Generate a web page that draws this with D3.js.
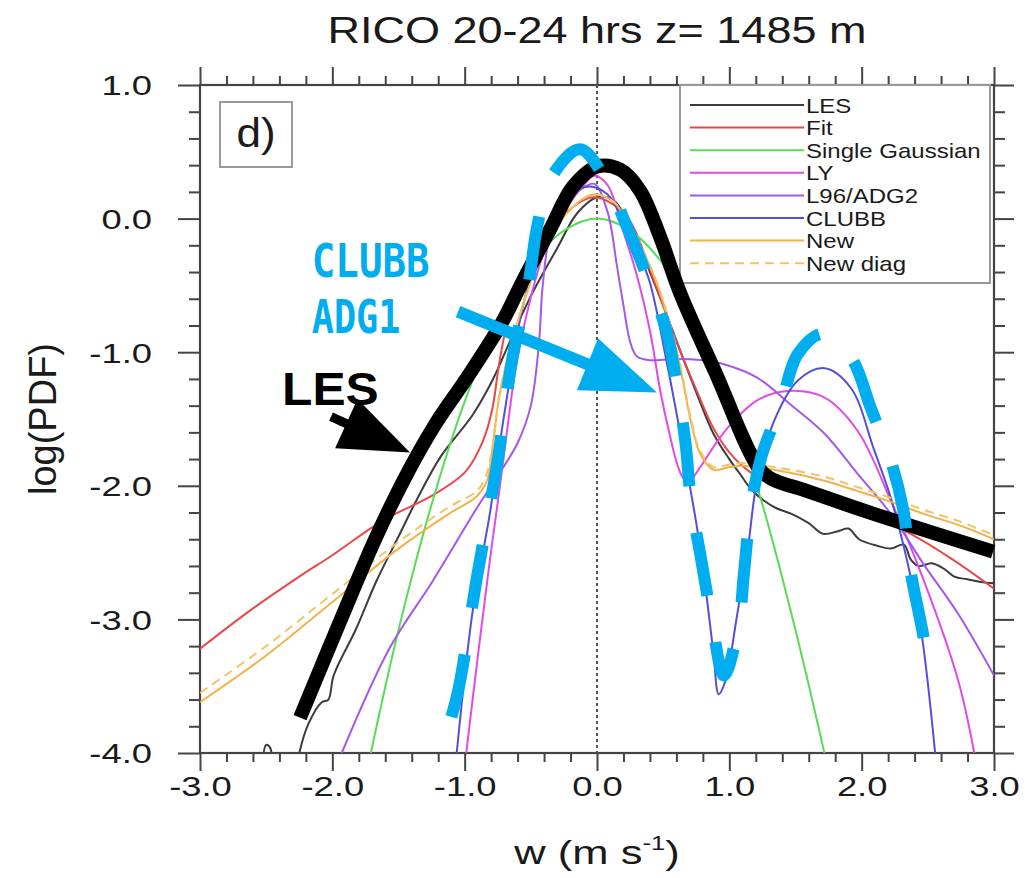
<!DOCTYPE html>
<html>
<head>
<meta charset="utf-8">
<script src="https://cdn.jsdelivr.net/npm/d3@7"></script>
<style>
  body { margin: 0; background: #fff; }
  svg { display: block; }
</style>
</head>
<body>
<svg id="chart" width="1025" height="878"></svg>
<script>
// ---------- data: log10 of the PDF of vertical velocity w (m/s) ----------
const titleText = "RICO 20-24 hrs z= 1485 m";
const seriesNames = ["LES", "Fit", "Single Gaussian", "LY", "L96/ADG2", "CLUBB", "New", "New diag"];

const xTickValues = [-3, -2, -1, 0, 1, 2, 3];
const xTickLabels = ["-3.0", "-2.0", "-1.0", "0.0", "1.0", "2.0", "3.0"];
const yTickValues = [1, 0, -1, -2, -3, -4];
const yTickLabels = ["1.0", "0.0", "-1.0", "-2.0", "-3.0", "-4.0"];

const lesW   = [-2.53, -2.50, -2.47, -2.44, -2.30, -2.25, -2.18, -2.08, -2.03, -1.99, -1.82, -1.67, -1.50, -1.36, -1.18, -0.94, -0.79, -0.68, -0.50, -0.30, -0.15, 0.00, 0.12, 0.25, 0.40, 0.50, 0.61, 0.75, 0.88, 1.00, 1.08, 1.16, 1.26, 1.36, 1.47, 1.60, 1.71, 1.82, 1.90, 1.98, 2.12, 2.22, 2.32, 2.37, 2.43, 2.53, 2.62, 2.70, 2.80, 2.90, 3.00];
const lesPdf = [-4.10, -3.94, -3.96, -4.10, -4.30, -4.00, -3.78, -3.62, -3.60, -3.42, -3.07, -2.72, -2.38, -2.10, -1.78, -1.47, -1.21, -0.97, -0.58, -0.22, 0.04, 0.16, 0.14, -0.05, -0.40, -0.65, -0.94, -1.30, -1.61, -1.80, -1.91, -2.02, -2.11, -2.17, -2.21, -2.28, -2.36, -2.34, -2.32, -2.40, -2.45, -2.47, -2.44, -2.55, -2.60, -2.58, -2.62, -2.68, -2.70, -2.72, -2.73];

const fitW   = [-3.00, -2.63, -2.25, -2.00, -1.62, -1.24, -0.99, -0.86, -0.79, -0.74, -0.66, -0.50, -0.30, -0.15, -0.03, 0.10, 0.25, 0.40, 0.60, 0.75, 0.88, 1.00, 1.16, 1.30, 1.60, 2.00, 2.37, 2.70, 3.00];
const fitPdf = [-3.22, -2.94, -2.68, -2.52, -2.26, -2.07, -1.89, -1.66, -1.42, -1.09, -0.71, -0.33, -0.03, 0.11, 0.16, 0.12, -0.02, -0.38, -0.92, -1.28, -1.57, -1.75, -1.90, -1.97, -2.05, -2.19, -2.36, -2.56, -2.77];

const gaussW   = [-1.72, -1.50, -1.25, -1.00, -0.75, -0.50, -0.25, 0.00, 0.25, 0.50, 0.75, 1.00, 1.25, 1.50, 1.73];
const gaussPdf = [-4.05, -3.08, -2.14, -1.37, -0.77, -0.34, -0.09, 0.00, -0.09, -0.34, -0.77, -1.37, -2.14, -3.08, -4.05];

const lyW   = [-1.00, -0.89, -0.81, -0.74, -0.68, -0.61, -0.53, -0.40, -0.25, -0.10, -0.02, 0.08, 0.20, 0.30, 0.40, 0.48, 0.55, 0.61, 0.66, 0.71, 0.78, 0.90, 1.01, 1.21, 1.44, 1.72, 1.97, 2.22, 2.47, 2.73, 2.87];
const lyPdf = [-4.10, -3.19, -2.56, -2.05, -1.59, -1.09, -0.71, -0.25, 0.05, 0.25, 0.32, 0.25, -0.10, -0.42, -0.84, -1.30, -1.62, -1.85, -1.95, -1.95, -1.86, -1.68, -1.54, -1.36, -1.29, -1.34, -1.59, -2.11, -2.71, -3.46, -4.10];

const l96W   = [-1.95, -1.57, -1.24, -0.91, -0.74, -0.60, -0.50, -0.44, -0.41, -0.36, -0.25, -0.12, -0.02, 0.08, 0.15, 0.20, 0.25, 0.30, 0.40, 0.58, 0.80, 0.96, 1.21, 1.46, 1.72, 1.97, 2.22, 2.47, 2.73, 3.00];
const l96Pdf = [-4.05, -3.22, -2.71, -2.17, -1.91, -1.68, -1.40, -0.95, -0.50, -0.15, 0.10, 0.22, 0.26, 0.05, -0.35, -0.65, -0.92, -1.03, -1.06, -1.05, -1.06, -1.09, -1.19, -1.39, -1.61, -1.91, -2.21, -2.59, -2.96, -3.42];

const clubbW   = [-1.07, -0.94, -0.81, -0.74, -0.66, -0.58, -0.48, -0.35, -0.20, -0.06, 0.08, 0.20, 0.30, 0.40, 0.53, 0.65, 0.76, 0.83, 0.88, 0.92, 0.97, 1.06, 1.14, 1.21, 1.34, 1.52, 1.72, 1.92, 2.09, 2.22, 2.35, 2.45, 2.56];
const clubbPdf = [-4.10, -2.94, -2.21, -1.72, -1.21, -0.75, -0.35, -0.02, 0.18, 0.24, 0.18, -0.02, -0.22, -0.48, -1.09, -1.72, -2.34, -2.84, -3.25, -3.56, -3.46, -2.96, -2.47, -1.96, -1.51, -1.21, -1.12, -1.27, -1.72, -2.09, -2.59, -3.09, -4.05];

const newW   = [-3.00, -2.50, -2.00, -1.50, -1.12, -0.91, -0.83, -0.79, -0.74, -0.68, -0.55, -0.40, -0.20, -0.03, 0.12, 0.30, 0.45, 0.55, 0.63, 0.71, 0.78, 0.88, 1.00, 1.10, 1.34, 1.71, 1.97, 2.22, 2.47, 2.75, 3.00];
const newPdf = [-3.62, -3.27, -2.87, -2.47, -2.21, -2.08, -1.96, -1.72, -1.34, -1.07, -0.62, -0.22, 0.07, 0.18, 0.13, -0.15, -0.48, -0.80, -1.12, -1.52, -1.76, -1.88, -1.86, -1.85, -1.88, -1.96, -2.04, -2.12, -2.21, -2.30, -2.40];

const newDiagW   = [-3.00, -2.50, -2.00, -1.50, -1.12, -0.91, -0.84, -0.79, -0.74, -0.68, -0.55, -0.40, -0.20, -0.03, 0.12, 0.30, 0.45, 0.55, 0.63, 0.71, 0.78, 0.88, 1.00, 1.10, 1.34, 1.71, 1.97, 2.22, 2.47, 2.75, 3.00];
const newDiagPdf = [-3.55, -3.20, -2.81, -2.42, -2.16, -2.04, -1.93, -1.70, -1.33, -1.06, -0.61, -0.21, 0.07, 0.18, 0.13, -0.14, -0.47, -0.78, -1.10, -1.50, -1.74, -1.86, -1.84, -1.83, -1.86, -1.93, -2.01, -2.09, -2.18, -2.27, -2.37];

// hand-drawn highlight over the LES curve
const sketchLesW   = [-2.244, -1.942, -1.678, -1.451, -1.224, -0.982, -0.718, -0.567, -0.355, -0.181, 0.000, 0.174, 0.325, 0.476, 0.627, 0.892, 1.232, 1.345, 1.534, 2.063, 2.993];
const sketchLesPdf = [-3.735, -3.016, -2.403, -1.939, -1.542, -1.190, -0.778, -0.479, -0.082, 0.240, 0.389, 0.367, 0.210, -0.135, -0.554, -1.145, -1.879, -1.961, -2.021, -2.201, -2.493];

// hand-drawn dashed highlight of the CLUBB ADG1 shape
const sketchAdgW   = [-1.10, -1.04, -0.91, -0.76, -0.64, -0.52, -0.45, -0.35, -0.13, 0.05, 0.23, 0.40, 0.53, 0.61, 0.67, 0.71, 0.78, 0.86, 0.96, 1.07, 1.11, 1.16, 1.24, 1.39, 1.52, 1.71, 1.92, 2.07, 2.22, 2.32, 2.37, 2.45, 2.53];
const sketchAdgPdf = [-3.73, -3.49, -2.70, -1.87, -1.05, -0.50, -0.05, 0.30, 0.52, 0.32, -0.07, -0.49, -0.86, -1.29, -1.69, -2.11, -2.51, -2.96, -3.42, -3.04, -2.66, -2.19, -1.79, -1.39, -1.01, -0.86, -1.04, -1.42, -1.81, -2.21, -2.64, -3.04, -3.46];

// arrows: [tail w, tail value, tip w, tip value]
const arrowAdg = [-1.050, -0.696, 0.453, -1.302];
const arrowLes = [-2.010, -1.482, -1.413, -1.751];

// ---------- styling ----------
const colors = {
  "LES": "#3c3c3c",
  "Fit": "#e8484c",
  "Single Gaussian": "#55dd55",
  "LY": "#e24ae6",
  "L96/ADG2": "#a458e8",
  "CLUBB": "#5050d8",
  "New": "#f2b24a",
  "New diag": "#f4c266"
};
const sketchBlue = "#00aeef";

const svg = d3.select("#chart");
const plot = { left: 200, right: 994, top: 85, bottom: 753 };

const x = d3.scaleLinear().domain([-3, 3]).range([plot.left, plot.right]);
const y = d3.scaleLinear().domain([-4, 1]).range([plot.bottom, plot.top]);

const zip = (ws, vs) => ws.map((w, i) => [w, vs[i]]);
const series = [
  { name: "LES", pts: zip(lesW, lesPdf) },
  { name: "Fit", pts: zip(fitW, fitPdf) },
  { name: "Single Gaussian", pts: zip(gaussW, gaussPdf) },
  { name: "LY", pts: zip(lyW, lyPdf) },
  { name: "L96/ADG2", pts: zip(l96W, l96Pdf) },
  { name: "CLUBB", pts: zip(clubbW, clubbPdf) },
  { name: "New", pts: zip(newW, newPdf) },
  { name: "New diag", pts: zip(newDiagW, newDiagPdf), dash: "9,6" }
];

const line = d3.line()
  .x(d => x(d[0]))
  .y(d => y(d[1]))
  .curve(d3.curveCatmullRom.alpha(0.5));

// horizontally stretched text helper
function stretchedText(parent, px, py, str, size, sx, attrs = {}) {
  const g = parent.append("g").attr("transform", `translate(${px},${py}) scale(${sx},1)`);
  const t = g.append("text")
    .attr("x", 0).attr("y", 0)
    .attr("font-family", attrs.family || "'Liberation Sans', Arial, sans-serif")
    .attr("font-size", size)
    .attr("font-weight", attrs.weight || "normal")
    .attr("fill", attrs.fill || "#111")
    .attr("text-anchor", attrs.anchor || "start")
    .text(str);
  return t;
}

// clip region for the curves
svg.append("defs").append("clipPath").attr("id", "plotClip")
  .append("rect")
  .attr("x", plot.left).attr("y", plot.top)
  .attr("width", plot.right - plot.left).attr("height", plot.bottom - plot.top);

// ---------- title ----------
stretchedText(svg, x(0), 43, titleText, 36, 1.25, { anchor: "middle", fill: "#1a1a1a" });

// ---------- axes ----------
const xMinor = d3.range(-3, 3.0001, 0.2).map(v => +v.toFixed(1)).filter(v => !xTickValues.includes(v));
const yMinor = d3.range(-4, 1.0001, 0.2).map(v => +v.toFixed(1)).filter(v => !yTickValues.includes(v));

function styleAxis(g) {
  g.select(".domain").remove();
  g.selectAll(".tick line").attr("stroke", "#444").attr("stroke-width", 2);
}

// bottom
svg.append("g").attr("transform", `translate(0,${plot.bottom})`)
  .call(d3.axisBottom(x).tickValues(xMinor).tickSize(9).tickFormat(""))
  .call(styleAxis);
const xAxisG = svg.append("g").attr("transform", `translate(0,${plot.bottom})`)
  .call(d3.axisBottom(x).tickValues(xTickValues).tickSize(18)
    .tickFormat((d, i) => xTickLabels[i]))
  .call(styleAxis);
xAxisG.selectAll(".tick text")
  .attr("y", 43).attr("dy", 0)
  .attr("font-family", "'Liberation Sans', Arial, sans-serif")
  .attr("font-size", 28).attr("fill", "#1a1a1a")
  .attr("transform", "scale(1.3,1)");

// top
svg.append("g").attr("transform", `translate(0,${plot.top})`)
  .call(d3.axisTop(x).tickValues(xMinor).tickSize(9).tickFormat(""))
  .call(styleAxis);
svg.append("g").attr("transform", `translate(0,${plot.top})`)
  .call(d3.axisTop(x).tickValues(xTickValues).tickSize(18).tickFormat(""))
  .call(styleAxis);

// left
svg.append("g").attr("transform", `translate(${plot.left},0)`)
  .call(d3.axisLeft(y).tickValues(yMinor).tickSize(11).tickFormat(""))
  .call(styleAxis);
const yAxisG = svg.append("g").attr("transform", `translate(${plot.left},0)`)
  .call(d3.axisLeft(y).tickValues(yTickValues).tickSize(22)
    .tickFormat((d, i) => yTickLabels[i]))
  .call(styleAxis);
yAxisG.selectAll(".tick text")
  .attr("x", 0).attr("dy", "0.35em")
  .attr("font-family", "'Liberation Sans', Arial, sans-serif")
  .attr("font-size", 28).attr("fill", "#1a1a1a")
  .attr("text-anchor", "end")
  .attr("transform", "translate(-48,0) scale(1.3,1)");

// right
svg.append("g").attr("transform", `translate(${plot.right},0)`)
  .call(d3.axisRight(y).tickValues(yMinor).tickSize(11).tickFormat(""))
  .call(styleAxis);
svg.append("g").attr("transform", `translate(${plot.right},0)`)
  .call(d3.axisRight(y).tickValues(yTickValues).tickSize(20).tickFormat(""))
  .call(styleAxis);

// frame
svg.append("rect")
  .attr("x", plot.left).attr("y", plot.top)
  .attr("width", plot.right - plot.left).attr("height", plot.bottom - plot.top)
  .attr("fill", "none").attr("stroke", "#444").attr("stroke-width", 2.2);

// axis titles
const xTitle = svg.append("g").attr("transform", `translate(${x(0)},864) scale(1.28,1)`)
  .append("text")
  .attr("text-anchor", "middle")
  .attr("font-family", "'Liberation Sans', Arial, sans-serif")
  .attr("font-size", 34).attr("fill", "#1a1a1a");
xTitle.append("tspan").text("w (m s");
xTitle.append("tspan").attr("font-size", 20).attr("dy", -14).text("-1");
xTitle.append("tspan").attr("dy", 14).text(")");

svg.append("text")
  .attr("transform", `translate(56,${y(-1.5)}) rotate(-90)`)
  .attr("text-anchor", "middle")
  .attr("font-family", "'Liberation Sans', Arial, sans-serif")
  .attr("font-size", 38).attr("fill", "#1a1a1a")
  .text("log(PDF)");

// zero line
svg.append("line")
  .attr("x1", x(0)).attr("x2", x(0))
  .attr("y1", plot.top).attr("y2", plot.bottom)
  .attr("stroke", "#555").attr("stroke-width", 2).attr("stroke-dasharray", "3,3");

// ---------- curves ----------
const curves = svg.append("g").attr("clip-path", "url(#plotClip)");
curves.selectAll("path.series")
  .data(series)
  .join("path")
  .attr("class", "series")
  .attr("d", d => line(d.pts))
  .attr("fill", "none")
  .attr("stroke", d => colors[d.name])
  .attr("stroke-width", 2)
  .attr("stroke-dasharray", d => d.dash || null);

// ---------- legend ----------
const legend = svg.append("g");
legend.append("rect")
  .attr("x", 680).attr("y", plot.top)
  .attr("width", 310).attr("height", 198)
  .attr("fill", "#fff").attr("stroke", "#999").attr("stroke-width", 2);
series.forEach((s, i) => {
  const ly = 105 + i * 22.6;
  legend.append("line")
    .attr("x1", 690).attr("x2", 804).attr("y1", ly).attr("y2", ly)
    .attr("stroke", colors[s.name]).attr("stroke-width", 2)
    .attr("stroke-dasharray", s.dash || null);
  stretchedText(legend, 806, ly + 7.5, s.name, 20, 1.2, { fill: "#1a1a1a" });
});

// panel label
svg.append("rect")
  .attr("x", 220).attr("y", 102).attr("width", 72).attr("height", 65)
  .attr("fill", "#fff").attr("stroke", "#999").attr("stroke-width", 2);
stretchedText(svg, 256, 147, "d)", 40, 1.1, { anchor: "middle", fill: "#1a1a1a" });

// ---------- hand-drawn annotations ----------
const sketch = svg.append("g");
sketch.append("path")
  .attr("d", line(zip(sketchLesW, sketchLesPdf)))
  .attr("fill", "none").attr("stroke", "#000").attr("stroke-width", 14)
  .attr("stroke-linecap", "butt").attr("stroke-linejoin", "round");

sketch.append("path")
  .attr("d", line(zip(sketchAdgW, sketchAdgPdf)))
  .attr("fill", "none").attr("stroke", sketchBlue).attr("stroke-width", 12)
  .attr("stroke-dasharray", "64,47").attr("stroke-linecap", "butt");

function drawArrow(a, color, shaftWidth, headLen, headHalf) {
  const sx = x(a[0]), sy = y(a[1]), tx = x(a[2]), ty = y(a[3]);
  const len = Math.hypot(tx - sx, ty - sy);
  const ux = (tx - sx) / len, uy = (ty - sy) / len;
  const bx = tx - ux * headLen, by = ty - uy * headLen;
  sketch.append("line")
    .attr("x1", sx).attr("y1", sy).attr("x2", bx + ux * 2).attr("y2", by + uy * 2)
    .attr("stroke", color).attr("stroke-width", shaftWidth);
  sketch.append("polygon")
    .attr("points", [
      [tx, ty],
      [bx - uy * headHalf, by + ux * headHalf],
      [bx + uy * headHalf, by - ux * headHalf]
    ].map(p => p.join(",")).join(" "))
    .attr("fill", color);
}
drawArrow(arrowAdg, sketchBlue, 12, 75, 28);
drawArrow(arrowLes, "#000", 9, 70, 27);

stretchedText(sketch, x(-2.38), y(-1.395), "LES", 46, 1.08, { weight: "bold", fill: "#000" });
stretchedText(sketch, x(-2.155), y(-0.435), "CLUBB", 46, 0.85,
  { weight: "bold", fill: sketchBlue, family: "'DejaVu Sans Mono', monospace" });
stretchedText(sketch, x(-2.155), y(-0.855), "ADG1", 46, 0.80,
  { weight: "bold", fill: sketchBlue, family: "'DejaVu Sans Mono', monospace" });
</script>
</body>
</html>
